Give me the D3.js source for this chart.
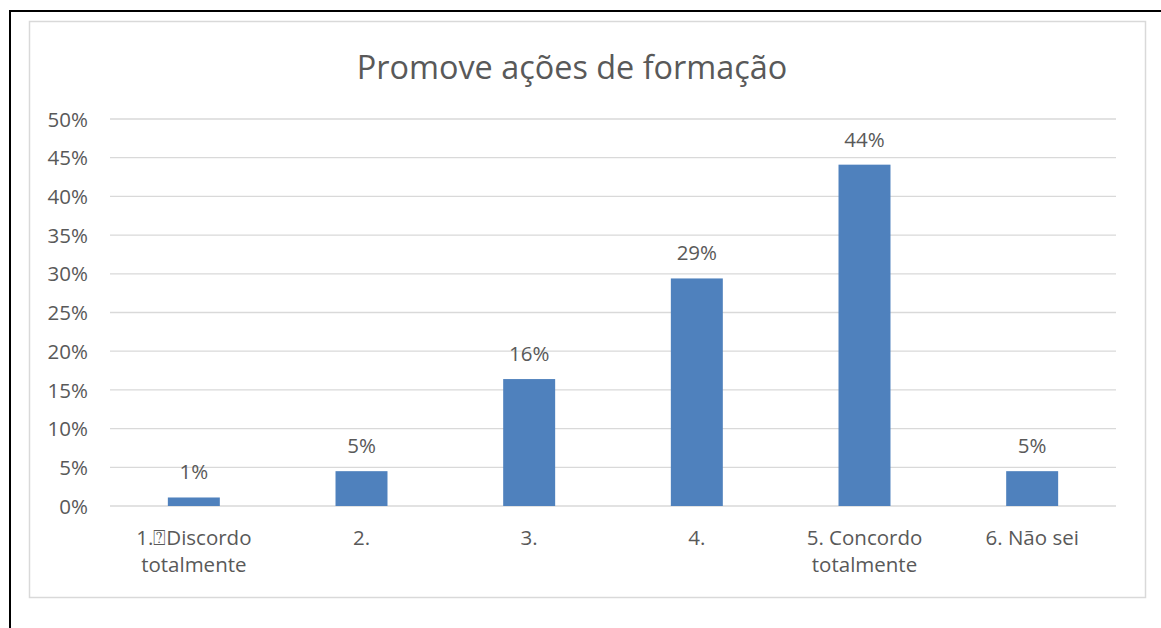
<!DOCTYPE html>
<html>
<head>
<meta charset="utf-8">
<script src="https://cdn.jsdelivr.net/npm/d3@7"></script>
<style>
  html, body { margin: 0; padding: 0; background: #fff; }
  svg { display: block; }
</style>
</head>
<body>
<svg id="chart" width="1161" height="628"></svg>
<script>
// Survey answers: share of respondents per option (%)
const title = "Promove ações de formação";
const categories = [
  ["1.\u2370Discordo", "totalmente"],
  ["2."],
  ["3."],
  ["4."],
  ["5. Concordo", "totalmente"],
  ["6. Não sei"]
];
const values = [1.1, 4.5, 16.4, 29.4, 44.1, 4.5];
const yTicks = [0, 5, 10, 15, 20, 25, 30, 35, 40, 45, 50];

const svg = d3.select("#chart");
const font = "'Open Sans', sans-serif";
const textColor = "#595959";
const labelSize = 20.5;

// outer black frame
svg.append("path")
  .attr("d", "M10,640 L10,11 L1175,11")
  .attr("fill", "none").attr("stroke", "#000").attr("stroke-width", 2);

// chart area border
svg.append("rect")
  .attr("x", 29.5).attr("y", 21.5).attr("width", 1116).attr("height", 576)
  .attr("fill", "#fff").attr("stroke", "#d9d9d9").attr("stroke-width", 1.5);

const x = d3.scaleBand()
  .domain(d3.range(categories.length))
  .range([110, 1116])
  .paddingInner(0.69)
  .paddingOuter(0.345);

const y = d3.scaleLinear().domain([0, 50]).range([506, 119]);

// title
svg.append("text")
  .attr("x", 572).attr("y", 79)
  .attr("text-anchor", "middle")
  .attr("font-family", font).attr("font-size", 32.4)
  .attr("fill", textColor)
  .text(title);

// horizontal gridlines
svg.append("g")
  .selectAll("line").data(yTicks).join("line")
  .attr("x1", 110).attr("x2", 1116)
  .attr("y1", d => y(d)).attr("y2", d => y(d))
  .attr("stroke", "#d9d9d9").attr("stroke-width", 1.3);

// y axis labels
const yAxis = d3.axisLeft(y).tickValues(yTicks).tickFormat(d => d + "%").tickSize(0).tickPadding(0);
const gy = svg.append("g").attr("transform", "translate(88,0)").call(yAxis);
gy.select(".domain").remove();
gy.selectAll("text")
  .attr("font-family", font).attr("font-size", labelSize)
  .attr("fill", textColor).attr("dy", "0.35em");

// bars
svg.append("g")
  .selectAll("rect").data(values).join("rect")
  .attr("x", (d, i) => x(i))
  .attr("width", x.bandwidth())
  .attr("y", d => y(d))
  .attr("height", d => y(0) - y(d))
  .attr("fill", "#4f81bd");

// value labels
svg.append("g")
  .selectAll("text").data(values).join("text")
  .attr("x", (d, i) => x(i) + x.bandwidth() / 2)
  .attr("y", d => y(d) - 18)
  .attr("text-anchor", "middle")
  .attr("font-family", font).attr("font-size", labelSize)
  .attr("fill", textColor)
  .text(d => Math.round(d) + "%");

// category labels
const cat = svg.append("g")
  .selectAll("text").data(categories).join("text")
  .attr("x", (d, i) => x(i) + x.bandwidth() / 2)
  .attr("y", 545)
  .attr("text-anchor", "middle")
  .attr("font-family", font).attr("font-size", labelSize)
  .attr("fill", textColor);
cat.selectAll("tspan").data(d => d).join("tspan")
  .attr("x", function () { return this.parentNode.getAttribute("x"); })
  .attr("dy", (d, i) => i === 0 ? 0 : 27)
  .text(d => d);
</script>
</body>
</html>
